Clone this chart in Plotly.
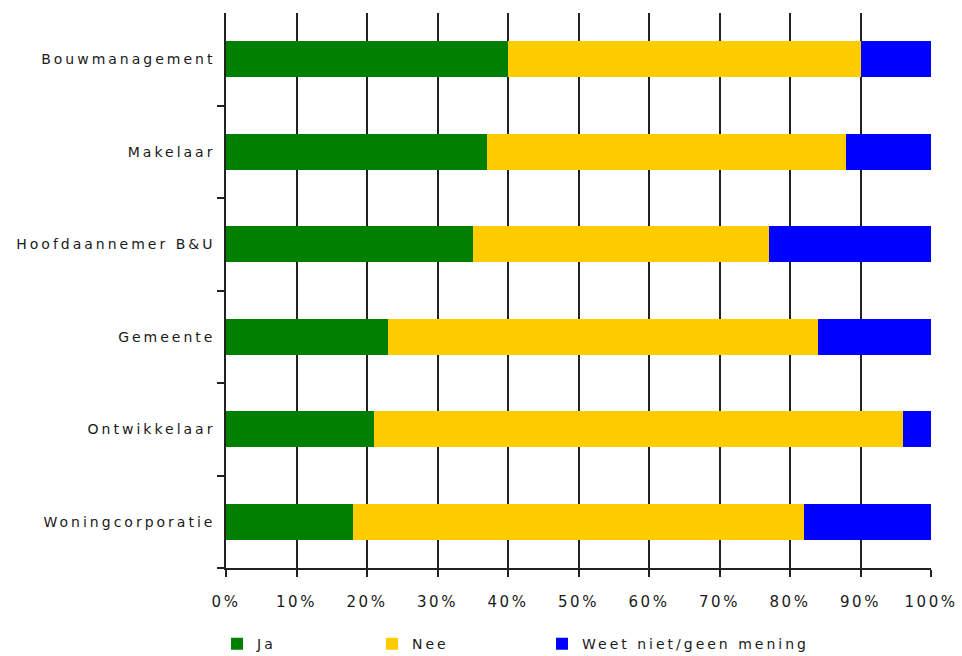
import plotly.graph_objects as go

categories = ["Bouwmanagement", "Makelaar", "Hoofdaannemer B&U", "Gemeente", "Ontwikkelaar", "Woningcorporatie"]
ja = [40, 37, 35, 23, 21, 18]
nee = [50, 51, 42, 61, 75, 64]
weet = [10, 12, 23, 16, 4, 18]
series_names = ["Ja", "Nee", "Weet niet/geen mening"]
colors = ["#008000", "#FFCC00", "#0000FF"]
tick_vals = [i / 10 for i in range(11)]
tick_text = [f"{i * 10}%" for i in range(11)]

font = "DejaVu Sans, Verdana, sans-serif"


def spaced(s, px=3):
    return f'<span style="letter-spacing:{px}px">{s}</span>'


legend_ids = ["legend", "legend2", "legend3"]
legend_x = [0.2256, 0.3867, 0.5634]

fig = go.Figure()
for name, vals, col, lid in zip(series_names, [ja, nee, weet], colors, legend_ids):
    fig.add_trace(go.Bar(
        y=categories,
        x=[v / 100 for v in vals],
        name=spaced(name, 3),
        orientation="h",
        legend=lid,
        showlegend=True,
        marker=dict(color=col, line=dict(width=0)),
    ))

legend_common = dict(
    orientation="h",
    xref="container", yref="container",
    y=0.018, xanchor="left", yanchor="middle",
    font=dict(size=14, family=font),
    bgcolor="rgba(0,0,0,0)",
    visible=True,
)

fig.update_layout(
    showlegend=True,
    barmode="stack",
    bargap=0.61,
    width=962,
    height=656,
    margin=dict(l=226, r=31, t=13, b=88, autoexpand=False),
    plot_bgcolor="white",
    paper_bgcolor="white",
    font=dict(family=font, size=14, color="#1a1a1a"),
    legend=dict(x=legend_x[0], **legend_common),
    legend2=dict(x=legend_x[1], **legend_common),
    legend3=dict(x=legend_x[2], **legend_common),
    xaxis=dict(
        range=[0, 1],
        tickvals=tick_vals,
        ticktext=[spaced(t, 2.5) for t in tick_text],
        showgrid=True,
        gridcolor="#222222",
        gridwidth=1.5,
        showline=True,
        linecolor="#222222",
        linewidth=1.5,
        ticks="outside",
        ticklen=7,
        tickcolor="#222222",
        tickwidth=1.5,
        zeroline=False,
        ticklabelstandoff=12,
        tickfont=dict(size=15),
        automargin=False,
        fixedrange=True,
    ),
    yaxis=dict(
        categoryorder="array",
        categoryarray=categories[::-1],
        tickvals=categories,
        ticktext=[spaced(c, 3) for c in categories],
        showline=True,
        linecolor="#222222",
        linewidth=1.5,
        ticks="outside",
        tickson="boundaries",
        ticklen=7,
        tickcolor="#222222",
        tickwidth=1.5,
        showgrid=False,
        ticklabelstandoff=6,
        automargin=False,
    ),
)

fig.write_html("out.html")
